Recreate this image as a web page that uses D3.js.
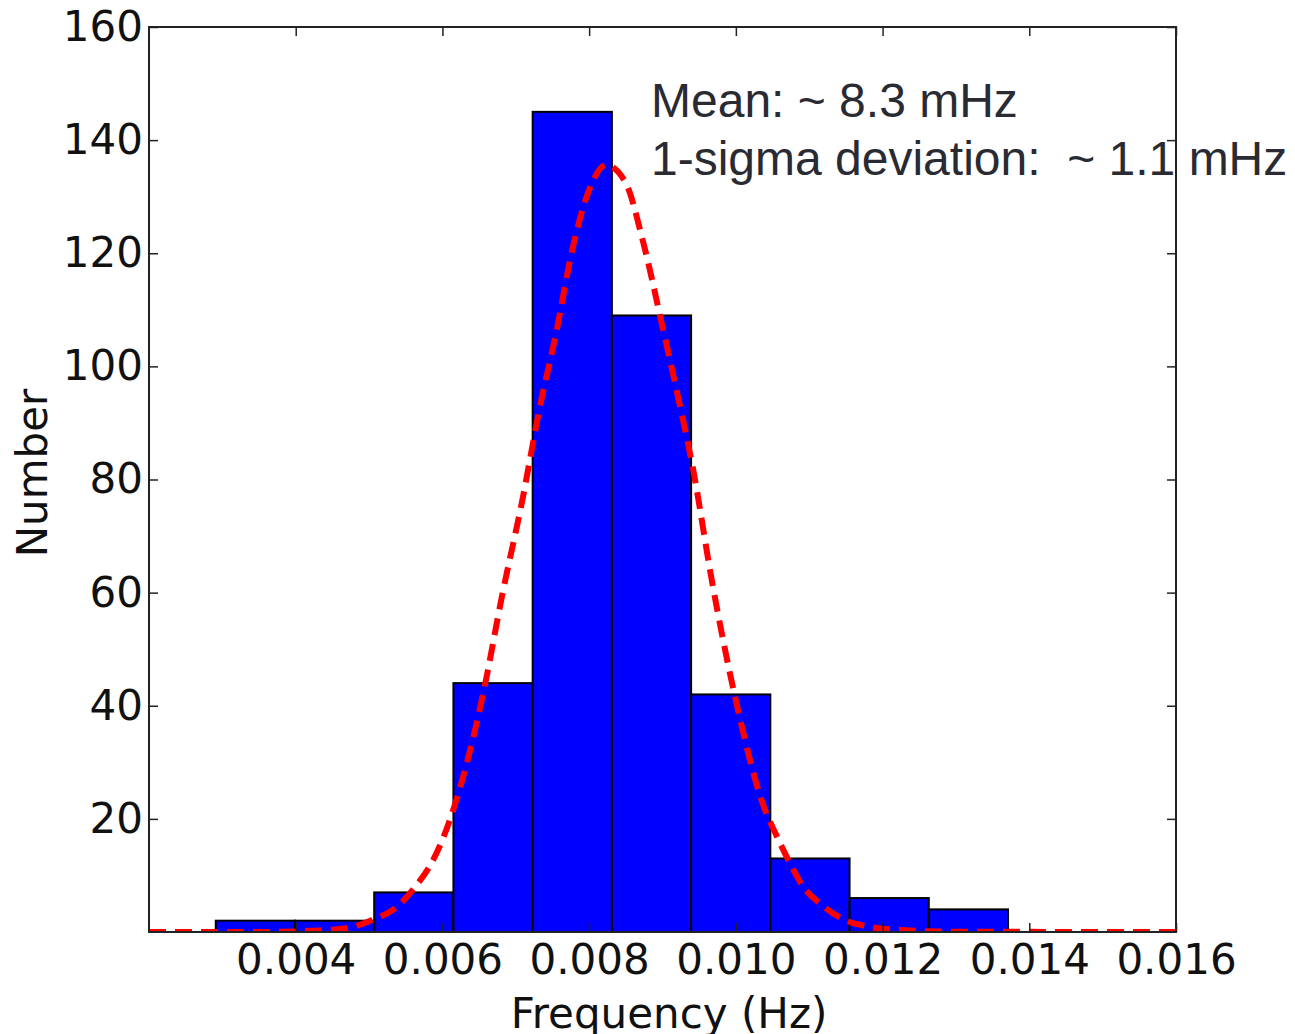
<!DOCTYPE html>
<html>
<head>
<meta charset="utf-8">
<script src="https://cdn.jsdelivr.net/npm/d3@7"></script>
<style>
  body { margin: 0; background: #fff; }
  svg { display: block; }
</style>
</head>
<body>
<div id="vis"></div>
<script>
// histogram bins (left edge in Hz) and counts
var binEdges = [0.00291, 0.00399, 0.00507, 0.00615, 0.00723, 0.00831, 0.00939, 0.01047, 0.01155, 0.01263, 0.01371];
var counts = [2, 2, 7, 44, 145, 109, 42, 13, 6, 4];

// fitted curve
var fitX = [0.0020, 0.0035, 0.0042, 0.00469, 0.00500, 0.00541, 0.00563, 0.00586, 0.00600, 0.00614,
  0.006545, 0.00682, 0.00709, 0.00732, 0.00755, 0.00777, 0.00800, 0.00823, 0.00850, 0.00873,
  0.00900, 0.00922, 0.00941, 0.00968, 0.00999, 0.01038, 0.01056, 0.01074, 0.01092, 0.01117,
  0.01144, 0.01183, 0.01226, 0.0130, 0.0160];
var fitY = [0, 0, 0.2, 0.65, 1.9, 4.8, 8.0, 12.4, 16.3, 21.3,
  41.5, 59.9, 76.4, 92.3, 105.9, 120.6, 131.2, 135.6, 132.4, 122.3,
  107.0, 94.1, 82.3, 61.6, 41.5, 22.2, 16.9, 12.1, 8.0, 4.8,
  2.4, 0.9, 0.35, 0.05, 0];

var xTicks = [0.004, 0.006, 0.008, 0.010, 0.012, 0.014, 0.016];
var yTicks = [20, 40, 60, 80, 100, 120, 140, 160];
var noteLines = ["Mean: ~ 8.3 mHz", "1-sigma deviation:  ~ 1.1 mHz"];

var margin = { top: 27, left: 149 };
var width = 1027, height = 905;

var svg = d3.select("#vis").append("svg")
  .attr("width", 1295).attr("height", 1034);
var g = svg.append("g").attr("transform", `translate(${margin.left}, ${margin.top})`);

var x = d3.scaleLinear().domain([0.002, 0.016]).range([0, width]);
var y = d3.scaleLinear().domain([0, 160]).range([height, 0]);

var bins = counts.map((c, i) => ({ x0: binEdges[i], x1: binEdges[i + 1], n: c }));

g.append("defs").append("clipPath").attr("id", "clip")
  .append("rect").attr("width", width).attr("height", height);

// bars
g.selectAll("rect.bar").data(bins).enter().append("rect")
  .attr("class", "bar")
  .attr("x", d => x(d.x0))
  .attr("y", d => y(d.n))
  .attr("width", d => x(d.x1) - x(d.x0))
  .attr("height", d => height - y(d.n))
  .attr("fill", "#0000ff")
  .attr("stroke", "#000")
  .attr("stroke-width", 2);

// dashed fit
var line = d3.line().x((d, i) => x(fitX[i])).y(d => y(d)).curve(d3.curveMonotoneX);
g.append("path").datum(fitY)
  .attr("d", line)
  .attr("clip-path", "url(#clip)")
  .attr("fill", "none")
  .attr("stroke", "#ff0000")
  .attr("stroke-width", 6)
  .attr("stroke-dasharray", "17,9");

// axes, ticks pointing inwards on all four sides
var fontTicks = "DejaVu Sans";
var xAxis = g.append("g").attr("transform", `translate(0, ${height})`)
  .call(d3.axisBottom(x).tickValues(xTicks).tickSize(-9).tickPadding(12).tickFormat(d3.format(".3f")));
var yAxis = g.append("g")
  .call(d3.axisLeft(y).tickValues(yTicks).tickSize(-9).tickPadding(6));
g.append("g").call(d3.axisTop(x).tickValues(xTicks).tickSize(-9).tickFormat(""));
g.append("g").attr("transform", `translate(${width}, 0)`)
  .call(d3.axisRight(y).tickValues(yTicks).tickSize(-9).tickFormat(""));

g.selectAll(".domain").remove();
g.selectAll(".tick line").attr("stroke", "#222").attr("stroke-width", 1.5);
g.selectAll(".tick text").style("font-family", fontTicks).style("font-size", "42px").attr("fill", "#111");

// frame
g.append("rect").attr("width", width).attr("height", height)
  .attr("fill", "none").attr("stroke", "#222").attr("stroke-width", 2);

// axis labels
svg.append("text")
  .attr("transform", "translate(47, 473) rotate(-90)")
  .attr("text-anchor", "middle")
  .style("font-family", fontTicks).style("font-size", "42px").attr("fill", "#111")
  .text("Number");
svg.append("text")
  .attr("x", 669).attr("y", 1028)
  .attr("text-anchor", "middle")
  .style("font-family", fontTicks).style("font-size", "42px").attr("fill", "#111")
  .text("Frequency (Hz)");

// annotation
svg.selectAll("text.note").data(noteLines).enter().append("text")
  .attr("class", "note")
  .attr("x", 651)
  .attr("y", (d, i) => 117 + i * 58)
  .style("font-family", "Liberation Sans, Arial, sans-serif")
  .style("font-size", "48px")
  .style("white-space", "pre")
  .attr("fill", "#2a2a33")
  .text(d => d);
</script>
</body>
</html>
